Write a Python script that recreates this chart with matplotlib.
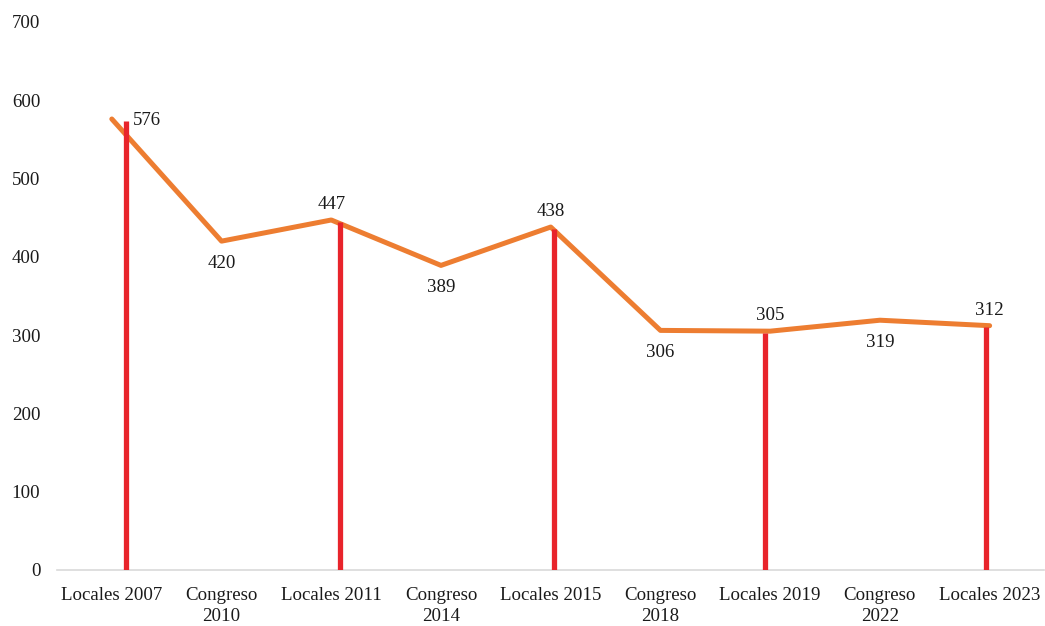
import numpy as np
import matplotlib.pyplot as plt

plt.rcParams['font.family'] = ['Liberation Serif', 'DejaVu Serif']

categories = ['Locales 2007', 'Congreso\n2010', 'Locales 2011', 'Congreso\n2014',
              'Locales 2015', 'Congreso\n2018', 'Locales 2019', 'Congreso\n2022',
              'Locales 2023']
values = [576, 420, 447, 389, 438, 306, 305, 319, 312]
# where each value label sits relative to its point
label_pos = ['right', 'below', 'above', 'below', 'above', 'below', 'above', 'below', 'above']
# red drop lines only on the "Locales" elections (hand-drawn, slightly shifted)
drop_idx = [0, 2, 4, 6, 8]
drop_shift = [0.13, 0.08, 0.03, -0.05, -0.03]

orange = '#ED7D31'
red = '#E8242B'
fs = 13.6

fig = plt.figure(figsize=(10.45, 6.26), dpi=100)
ax = fig.add_axes([0.0545, 0.0895, 0.945, 0.8755])

x = np.arange(len(categories))
ax.plot(x, values, color=orange, lw=3.6, solid_capstyle='round', zorder=2)

for i, s in zip(drop_idx, drop_shift):
    ax.vlines(x[i] + s, 0, values[i] - 2, color=red, lw=3.8, zorder=3)

for xi, v, p in zip(x, values, label_pos):
    if p == 'right':
        ax.annotate(str(v), (xi, v), xytext=(15, -1), textcoords='offset points',
                    ha='left', va='center', fontsize=fs, color='#1a1a1a')
    elif p == 'above':
        ax.annotate(str(v), (xi, v), xytext=(0, 5), textcoords='offset points',
                    ha='center', va='bottom', fontsize=fs, color='#1a1a1a')
    else:
        ax.annotate(str(v), (xi, v), xytext=(0, -10), textcoords='offset points',
                    ha='center', va='top', fontsize=fs, color='#1a1a1a')

ax.set_xlim(-0.5, len(categories) - 0.5)
ax.set_ylim(0, 700)
ax.set_yticks(range(0, 701, 100))
ax.set_xticks(x)
ax.set_xticklabels(categories, fontsize=fs, color='#1a1a1a', linespacing=1.35)
ax.tick_params(axis='y', labelsize=fs, labelcolor='#1a1a1a', length=0, pad=12)
ax.tick_params(axis='x', length=0, pad=12)

for side in ['top', 'right', 'left']:
    ax.spines[side].set_visible(False)
ax.spines['bottom'].set_color('#D9D9D9')
ax.spines['bottom'].set_linewidth(1.2)

fig.savefig('out.png', dpi=100)
